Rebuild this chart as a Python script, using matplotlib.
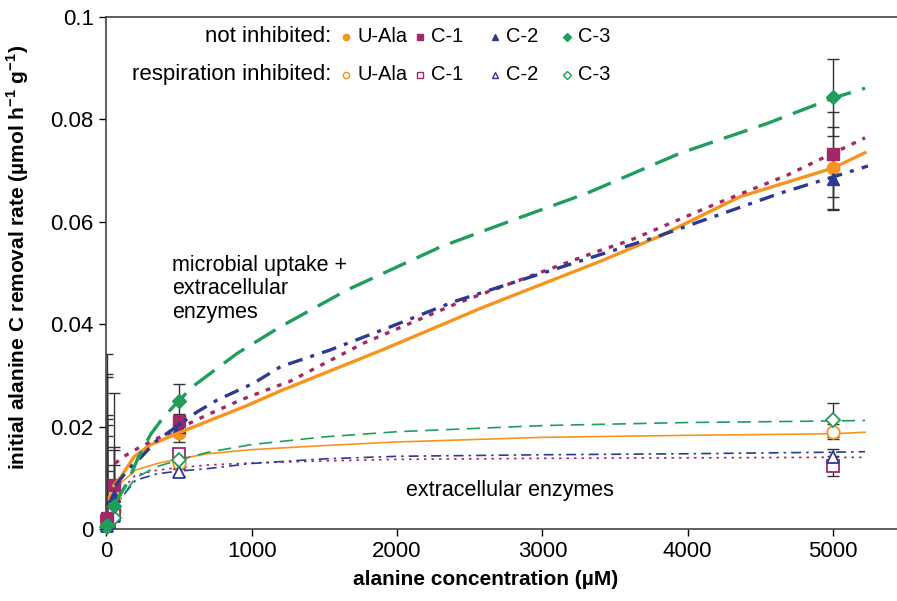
import matplotlib
matplotlib.use('Agg')
import matplotlib.pyplot as plt

plt.rcParams['font.family'] = ['Liberation Sans', 'DejaVu Sans']
plt.rcParams['mathtext.fontset'] = 'custom'
plt.rcParams['mathtext.rm'] = 'Liberation Sans'
plt.rcParams['mathtext.bf'] = 'Liberation Sans:bold'

# measured points (uM alanine)
conc = [5, 50, 500, 5000]
series = ['U-Ala', 'C-1', 'C-2', 'C-3']

# not inhibited
act_mean = {
    'U-Ala': [0.0012, 0.0060, 0.0188, 0.0705],
    'C-1': [0.0022, 0.0085, 0.0210, 0.0732],
    'C-2': [0.0012, 0.0065, 0.0200, 0.0683],
    'C-3': [0.0008, 0.0045, 0.0250, 0.0843],
}
act_err = {
    'U-Ala': [0.0290, 0.0100, 0.0018, 0.0080],
    'C-1': [0.0320, 0.0180, 0.0015, 0.0083],
    'C-2': [0.0285, 0.0090, 0.0012, 0.0060],
    'C-3': [0.0215, 0.0080, 0.0033, 0.0075],
}
# respiration inhibited
inh_mean = {
    'U-Ala': [0.0008, 0.0035, 0.0128, 0.0190],
    'C-1': [0.0015, 0.0030, 0.0147, 0.0123],
    'C-2': [0.0006, 0.0025, 0.0112, 0.0141],
    'C-3': [0.0004, 0.0022, 0.0135, 0.0213],
}
inh_err = {
    'U-Ala': [0.0195, 0.0040, 0.0010, 0.0015],
    'C-1': [0.0200, 0.0050, 0.0010, 0.0020],
    'C-2': [0.0175, 0.0030, 0.0008, 0.0015],
    'C-3': [0.0110, 0.0040, 0.0008, 0.0033],
}

# fitted curves
fit_act_x = {
    'U-Ala': [50, 100, 190, 300, 500, 720, 950, 1200, 1900, 2600, 3400, 3800, 4360, 5000, 5220],
    'C-1': [60, 110, 213, 327, 431, 568, 695, 924, 1153, 1260, 1770, 2414, 3033, 3377, 3605, 4202, 4684, 5220],
    'C-2': [60, 110, 144, 241, 339, 626, 763, 1015, 1198, 1543, 1955, 2391, 2850, 3355, 3789, 4637, 5004, 5240],
    'C-3': [50, 147, 217, 305, 389, 490, 593, 900, 1197, 1657, 2299, 2803, 3308, 3948, 4546, 5004, 5220],
}
fit_act_y = {
    'U-Ala': [0.0085, 0.0102, 0.0141, 0.0164, 0.0188, 0.0213, 0.0239, 0.0270, 0.0350, 0.0434, 0.0523, 0.0571, 0.0649, 0.0705, 0.0735],
    'C-1': [0.0128, 0.0140, 0.0157, 0.0174, 0.0187, 0.0206, 0.0223, 0.0252, 0.0277, 0.0288, 0.0363, 0.0441, 0.0506, 0.0542, 0.0564, 0.0636, 0.0691, 0.0764],
    'C-2': [0.0085, 0.0102, 0.0115, 0.0141, 0.0171, 0.0229, 0.0252, 0.0285, 0.0317, 0.0350, 0.0395, 0.0444, 0.0486, 0.0532, 0.0571, 0.0656, 0.0688, 0.0709],
    'C-3': [0.0045, 0.0092, 0.0138, 0.0185, 0.0217, 0.0248, 0.0278, 0.0343, 0.0395, 0.0467, 0.0551, 0.0604, 0.0656, 0.0734, 0.0792, 0.0842, 0.0861],
}
fit_inh_x = [50, 100, 200, 350, 500, 700, 1000, 1500, 2000, 3000, 4000, 5000, 5220]
fit_inh_y = {
    'U-Ala': [0.0060, 0.0090, 0.0115, 0.0128, 0.0137, 0.0147, 0.0155, 0.0163, 0.0170, 0.0179, 0.0183, 0.0186, 0.0189],
    'C-1': [0.0040, 0.0075, 0.0105, 0.0115, 0.0120, 0.0125, 0.0129, 0.0133, 0.0136, 0.0138, 0.0139, 0.0140, 0.0140],
    'C-2': [0.0030, 0.0060, 0.0095, 0.0108, 0.0113, 0.0118, 0.0128, 0.0137, 0.0142, 0.0145, 0.0147, 0.0150, 0.0151],
    'C-3': [0.0040, 0.0060, 0.0100, 0.0122, 0.0135, 0.0150, 0.0165, 0.0180, 0.0190, 0.0202, 0.0208, 0.0211, 0.0212],
}

colors = {'U-Ala': '#F7931E', 'C-1': '#A2286A', 'C-2': '#2B3A94', 'C-3': '#1E9E5A'}
markers = {'U-Ala': 'o', 'C-1': 's', 'C-2': '^', 'C-3': 'D'}
msize = {'U-Ala': 9, 'C-1': 9, 'C-2': 9, 'C-3': 7}
thick_ls = {'U-Ala': '-', 'C-1': (0, (1.4, 2.2)), 'C-2': (0, (4.5, 2.5, 1.2, 2.5)), 'C-3': (0, (7.5, 3.5))}
thin_ls = {'U-Ala': '-', 'C-1': (0, (1.5, 3)), 'C-2': (0, (6, 3, 1.5, 3)), 'C-3': (0, (8, 4.5))}

fig = plt.figure(figsize=(8.97, 6.01), dpi=100)
ax = fig.add_axes([0.1178, 0.1198, 0.8822, 0.8519])

for s in series:
    ax.errorbar(conc, act_mean[s], yerr=act_err[s], fmt='none', ecolor='#333333',
                elinewidth=1.0, capsize=4, capthick=1.0, zorder=2)
    ax.errorbar(conc, inh_mean[s], yerr=inh_err[s], fmt='none', ecolor='#333333',
                elinewidth=1.0, capsize=4, capthick=1.0, zorder=2)

for s in series:
    ax.plot(fit_inh_x, fit_inh_y[s], color=colors[s], lw=1.2, ls=thin_ls[s], zorder=3)
    ax.plot(conc, inh_mean[s], ls='none', marker=markers[s], ms=msize[s],
            mfc='white', mec=colors[s], mew=1.3, zorder=4, clip_on=False)

for s in series:
    ax.plot(conc, act_mean[s], ls='none', marker=markers[s], ms=msize[s],
            color=colors[s], zorder=5, clip_on=False)
    ax.plot(fit_act_x[s], fit_act_y[s], color=colors[s], lw=2.4, ls=thick_ls[s], zorder=6)

ax.set_xlim(-5, 5440)
ax.set_ylim(0, 0.1)
ax.set_xticks([0, 1000, 2000, 3000, 4000, 5000])
ax.set_yticks([0, 0.02, 0.04, 0.06, 0.08, 0.1])
ax.set_yticklabels(['0', '0.02', '0.04', '0.06', '0.08', '0.1'])
ax.tick_params(direction='out', length=5, width=1, labelsize=16, colors='black')
ax.spines['right'].set_visible(False)
for sp in ['left', 'bottom', 'top']:
    ax.spines[sp].set_color('#444444')
    ax.spines[sp].set_linewidth(1.2)

ax.set_xlabel('alanine concentration (µM)', fontsize=15, fontweight='bold')
ax.xaxis.set_label_coords(0.48, -0.08)
ax.set_ylabel(r'initial alanine C removal rate (µmol h$^{\mathbf{-1}}$ g$^{\mathbf{-1}}$)',
              fontsize=15, fontweight='bold')
ax.yaxis.set_label_coords(-0.094, 0.53)

# legend, laid out as two labelled rows
rows = [(0.961, 'not inhibited:', True), (0.887, 'respiration inhibited:', False)]
mk_x = [0.304, 0.397, 0.492, 0.583]
lb_x = [0.318, 0.411, 0.506, 0.597]
for ry, title, filled in rows:
    ax.text(0.285, ry, title, transform=ax.transAxes, ha='right', va='center', fontsize=16)
    for s, mx, lx in zip(series, mk_x, lb_x):
        ax.plot([mx], [ry], transform=ax.transAxes, marker=markers[s], ms=4.5,
                color=colors[s], mfc=colors[s] if filled else 'white', mew=1.0,
                ls='none', clip_on=False)
        ax.text(lx, ry, s, transform=ax.transAxes, ha='left', va='center', fontsize=14.5)

ax.text(0.084, 0.469, 'microbial uptake +\nextracellular\nenzymes', transform=ax.transAxes,
        ha='left', va='center', fontsize=15.5, linespacing=1.15)
ax.text(0.511, 0.076, 'extracellular enzymes', transform=ax.transAxes,
        ha='center', va='center', fontsize=15.5)

fig.savefig('out.png', dpi=100)
